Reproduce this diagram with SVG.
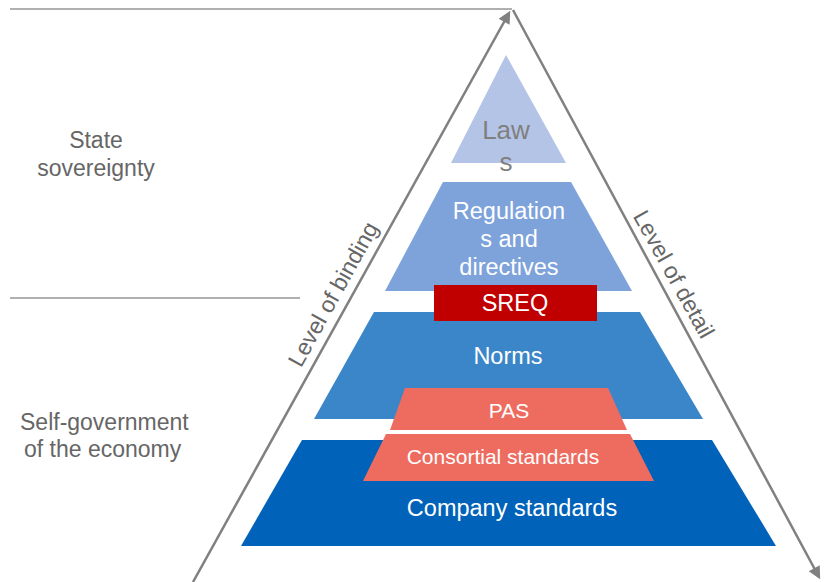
<svg xmlns="http://www.w3.org/2000/svg" width="824" height="582" viewBox="0 0 824 582">
<defs>
<style>
.ax{stroke:#808080;stroke-width:2.5;fill:none}
.sep{stroke:#b0b0b0;stroke-width:2;fill:none}
.lbl{font-family:"Liberation Sans",Arial,sans-serif;fill:#666666;font-size:23px}
.wt{font-family:"Liberation Sans",Arial,sans-serif;fill:#ffffff;text-anchor:middle;font-size:23.5px}
.sm{font-size:21px}
</style>
<marker id="ah" viewBox="0 0 10 10" refX="8" refY="5" markerWidth="6" markerHeight="5" orient="auto" markerUnits="strokeWidth">
<path d="M0,0 L10,5 L0,10 z" fill="#808080"/>
</marker>
</defs>
<rect width="824" height="582" fill="#ffffff"/>
<g id="separators">
<line class="sep" x1="10" y1="9" x2="512" y2="9"/>
<line class="sep" x1="10" y1="298" x2="300" y2="298"/>
</g>
<g id="labels">
<text class="lbl" x="96" y="148" text-anchor="middle">State</text>
<text class="lbl" x="96" y="176" text-anchor="middle">sovereignty</text>
<text class="lbl" x="20" y="430">Self-government</text>
<text class="lbl" x="24" y="457">of the economy</text>
</g>
<g id="laws">
<polygon points="506,55 566,163 451,163" fill="#b4c4e6"/>
<text class="lbl" x="506" y="139" text-anchor="middle" style="font-size:26px;fill:#7f7f7f">Law</text>
<text class="lbl" x="506" y="171" text-anchor="middle" style="font-size:26px;fill:#7f7f7f">s</text>
</g>
<g id="regulations">
<polygon points="443,182 571,182 632,291 385,291" fill="#7ea2da"/>
<text class="wt" x="509" y="219">Regulation</text>
<text class="wt" x="509" y="247">s and</text>
<text class="wt" x="509" y="275">directives</text>
</g>
<g id="norms">
<polygon points="374,312 640,312 703,419 314,419" fill="#3b86c8"/>
<text class="wt" x="508" y="364">Norms</text>
</g>
<g id="company">
<polygon points="302,440 712,440 776,546 241,546" fill="#0062b8"/>
<text class="wt" x="512" y="516">Company standards</text>
</g>
<g id="pas">
<polygon points="405,388 608,388 627,430 390,430" fill="#ee6c5f"/>
<text class="wt sm" x="509" y="418">PAS</text>
</g>
<g id="consortial">
<polygon points="386,434 630,434 654,481 363,481" fill="#ee6c5f"/>
<text class="wt sm" x="503" y="464">Consortial standards</text>
</g>
<g id="sreq">
<rect x="434" y="285" width="163" height="36" fill="#c00000"/>
<text class="wt" x="515" y="311">SREQ</text>
</g>
<g id="connectors">
<line class="ax" x1="193" y1="582" x2="509" y2="13" marker-end="url(#ah)"/>
<line class="ax" x1="513" y1="10" x2="819" y2="577" marker-end="url(#ah)"/>
<text class="lbl" transform="translate(340,298) rotate(-61)" text-anchor="middle">Level of binding</text>
<text class="lbl" transform="translate(667,278) rotate(61)" text-anchor="middle">Level of detail</text>
</g>
</svg>
